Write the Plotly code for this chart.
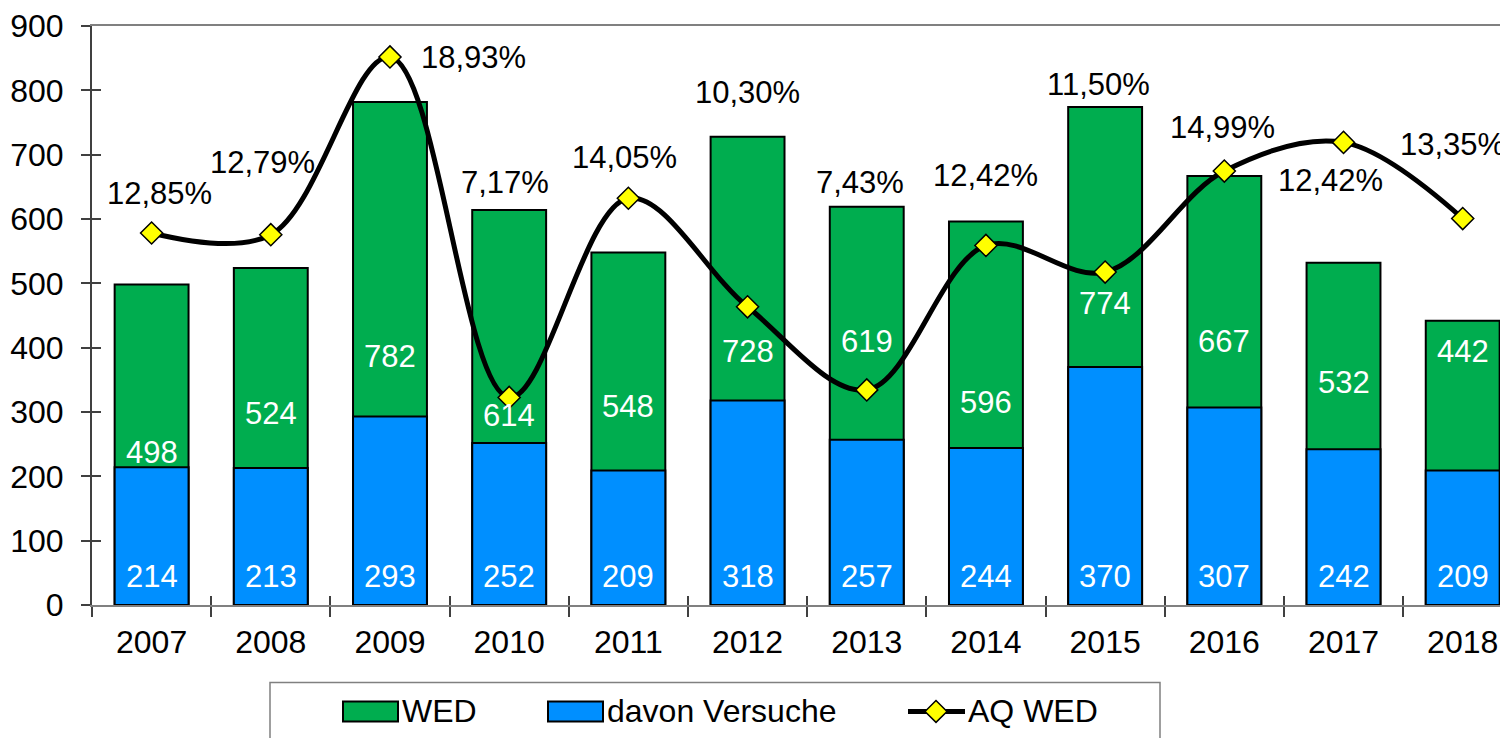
import plotly.graph_objects as go

years = ["2007", "2008", "2009", "2010", "2011", "2012", "2013", "2014", "2015", "2016", "2017", "2018"]
wed = [498, 524, 782, 614, 548, 728, 619, 596, 774, 667, 532, 442]
versuche = [214, 213, 293, 252, 209, 318, 257, 244, 370, 307, 242, 209]
# AQ WED in percent (line on a hidden secondary axis)
aq_wed = [12.85, 12.79, 18.93, 7.17, 14.05, 10.30, 7.43, 12.42, 11.50, 14.99, 15.98, 13.35]
aq_labels = ["12,85%", "12,79%", "18,93%", "7,17%", "14,05%", "10,30%",
             "7,43%", "12,42%", "11,50%", "14,99%", "12,42%", "13,35%"]

# label placement (as in the original, labels were moved by hand)
pct_label_y = [639, 688, 851, 657, 696, 796, 657, 668, 809, 742, 660, 716]
pct_label_dx = [8, -8, 84, -4, -4, 0, -7, 0, -7, -2, -13, -10]
wed_label_y = [237, 298, 387, 294, 309, 394, 410, 314, 469, 410, 346, 394]
versuche_label_y = 45

GREEN = "#00AD4F"
BLUE = "#008FFF"
FONT = "Liberation Sans, Arial, sans-serif"

# page body has an 8px margin, so the figure is 8px smaller than the window
W, H = 1500, 730
ML, MT, MB = 84, 15, 133
PW, PH = W - ML, H - MT - MB


def px(x, y):
    # pixel position (figure coords) -> paper coords
    return (x - ML) / PW, (H - MB - y) / PH


fig = go.Figure()

fig.add_bar(name="WED", x=years, y=wed, width=0.62, showlegend=False,
            marker=dict(color=GREEN, line=dict(color="black", width=2)))
fig.add_bar(name="davon Versuche", x=years, y=versuche, width=0.62, showlegend=False,
            marker=dict(color=BLUE, line=dict(color="black", width=2)))
fig.add_scatter(name="AQ WED", x=years, y=aq_wed, yaxis="y2", mode="lines+markers",
                showlegend=False,
                line=dict(color="black", width=5, shape="spline", smoothing=1),
                marker=dict(symbol="diamond", size=17, color="#FFFF00",
                            line=dict(color="black", width=1.5)),
                cliponaxis=False)
# invisible helper so the overlay axes (inner half of crossing ticks) get drawn
fig.add_scatter(x=list(range(len(years))), y=wed, xaxis="x2", yaxis="y3", mode="markers",
                marker=dict(opacity=0), hoverinfo="skip", showlegend=False)

# numeric-looking category names -> annotations use the category index
annotations = []
for i, yr in enumerate(years):
    annotations.append(dict(x=i, y=wed_label_y[i], text=str(wed[i]), showarrow=False,
                            font=dict(color="white", size=31)))
    annotations.append(dict(x=i, y=versuche_label_y, text=str(versuche[i]), showarrow=False,
                            font=dict(color="white", size=31)))
    annotations.append(dict(x=i, y=pct_label_y[i], text=aq_labels[i], showarrow=False,
                            xshift=pct_label_dx[i], font=dict(color="black", size=31)))

# hand-drawn legend box like the original
shapes = []
bx0, by0 = px(262, 675)
bx1, by1 = px(1152, 745)
shapes.append(dict(type="rect", xref="paper", yref="paper", x0=bx0, y0=by0, x1=bx1, y1=by1,
                   line=dict(color="#808080", width=1.5), fillcolor="white", layer="above"))
legend_items = [("WED", GREEN, 335), ("davon Versuche", BLUE, 540)]
for name, col, x0 in legend_items:
    sx0, sy0 = px(x0, 694)
    sx1, sy1 = px(x0 + 55, 714)
    shapes.append(dict(type="rect", xref="paper", yref="paper", x0=sx0, y0=sy0, x1=sx1, y1=sy1,
                       line=dict(color="black", width=2), fillcolor=col, layer="above"))
    tx, ty = px(x0 + 57, 704)
    annotations.append(dict(xref="paper", yref="paper", x=tx, y=ty, text=name, showarrow=False,
                            xanchor="left", yanchor="middle", font=dict(size=32)))
lx0, ly = px(900, 704)
lx1, _ = px(957, 704)
shapes.append(dict(type="line", xref="paper", yref="paper", x0=lx0, y0=ly, x1=lx1, y1=ly,
                   line=dict(color="black", width=5), layer="above"))
dcx, dcy = 928, 704
path = "M {} {} L {} {} L {} {} L {} {} Z".format(
    *px(dcx - 11, dcy), *px(dcx, dcy - 11), *px(dcx + 11, dcy), *px(dcx, dcy + 11))
shapes.append(dict(type="path", xref="paper", yref="paper", path=path,
                   line=dict(color="black", width=1.5), fillcolor="#FFFF00", layer="above"))
tx, ty = px(958, 704)
annotations.append(dict(xref="paper", yref="paper", x=tx, y=ty, text="AQ WED", showarrow=False,
                        xanchor="left", yanchor="middle", font=dict(size=32)))

fig.update_layout(
    barmode="overlay",
    width=W, height=H,
    margin=dict(l=ML, r=0, t=MT, b=MB),
    paper_bgcolor="white", plot_bgcolor="white",
    font=dict(family=FONT, size=32, color="black"),
    annotations=annotations,
    shapes=shapes,
    showlegend=False,
    xaxis=dict(type="category", range=[-0.5, 11.38], tickson="boundaries",
               ticks="outside", ticklen=10, tickcolor="#404040", tickwidth=1.5,
               showline=True, linecolor="#808080", linewidth=2, mirror=True,
               showgrid=False, ticklabelstandoff=8),
    yaxis=dict(range=[0, 900], dtick=100, ticks="outside", ticklen=9,
               tickcolor="#404040", tickwidth=1.5, showline=True,
               linecolor="#404040", linewidth=2, showgrid=False, zeroline=False,
               ticklabelstandoff=11, ticklabeloverflow="allow"),
    yaxis2=dict(overlaying="y", side="right", range=[0, 20], visible=False),
    yaxis3=dict(overlaying="y", anchor="x", range=[0, 900], tickvals=list(range(0, 901, 100)),
                ticks="inside", ticklen=9, tickcolor="#404040", tickwidth=1.5,
                showticklabels=False, showgrid=False, zeroline=False, showline=False),
    xaxis2=dict(overlaying="x", anchor="y", type="linear", range=[-0.5, 11.38],
                tickvals=[k - 0.5 for k in range(13)], ticks="inside", ticklen=9,
                tickcolor="#404040", tickwidth=1.5, showticklabels=False,
                showgrid=False, zeroline=False, showline=False),
)

fig.write_html("out.html")
